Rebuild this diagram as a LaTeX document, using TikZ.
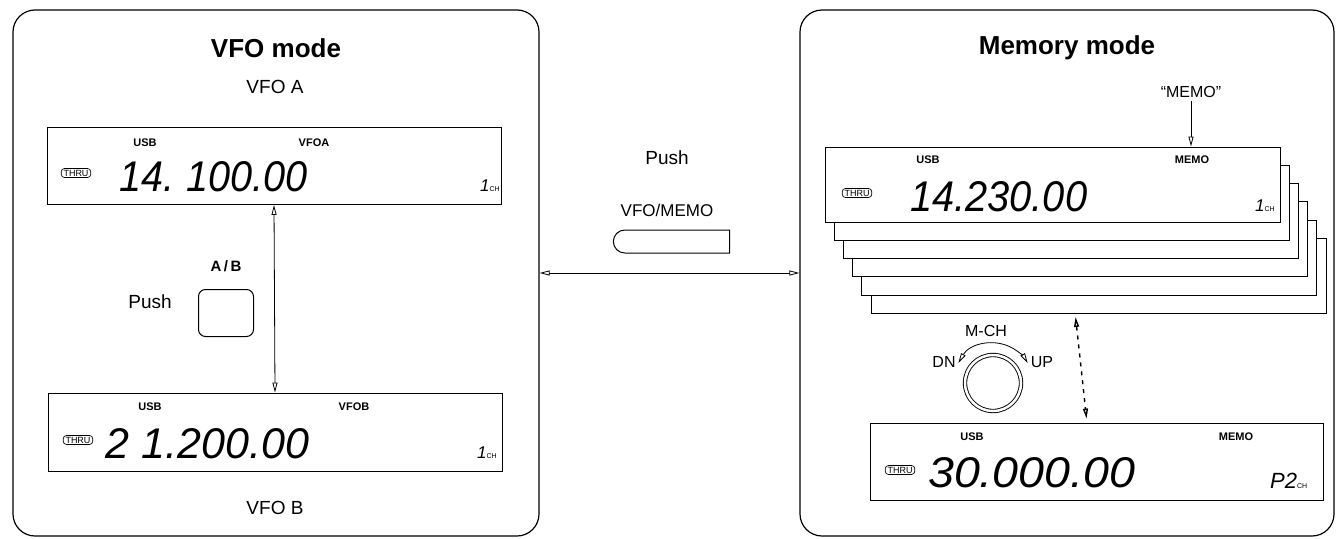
\documentclass[tikz,border=0pt]{standalone}
\usepackage{fontspec}
\setmainfont{Liberation Sans}
\usepackage{graphicx}
\usetikzlibrary{arrows.meta,shapes.misc,calc}
\newcommand{\lcdnum}[3]{\resizebox{#1pt}{#2pt}{\itshape #3}}
\newcommand{\chlbl}[2]{{\fontsize{#2}{#2}\selectfont\itshape #1}{\fontsize{7}{8}\selectfont CH}}
\begin{document}
\begin{tikzpicture}[x=1pt,y=-1pt,
  panel/.style={draw, line width=1.2pt, rounded corners=22pt},
  lcd/.style={draw, fill=white, line width=0.9pt},
  tiny/.style={font=\fontsize{11}{12}\selectfont\bfseries},
  lbl/.style={font=\fontsize{19}{22}\selectfont},
  ttl/.style={font=\fontsize{26}{30}\selectfont\bfseries},
  thru/.style={draw, rounded corners=3pt, inner xsep=2.2pt, inner ysep=1.3pt, font=\fontsize{9}{10}\selectfont, line width=0.7pt},
  num/.style={anchor=west, inner sep=0pt},
  tip/.tip={Triangle[open,length=10pt,width=5pt]},
  arr/.style={line width=0.8pt, tip-tip},
  arr1/.style={line width=0.8pt, -tip}]
\useasboundingbox (0,0) rectangle (1338,538);

% panels
\node[panel, minimum width=526pt, minimum height=526pt] (vfo) at (276,273) {};
\node[panel, minimum width=534pt, minimum height=526pt] (mem) at (1067,273) {};
\node[ttl] (vfot) at (276,48) {VFO mode};
\node[ttl] (memt) at (1067,48) {Memory mode};
\node[lbl] (vfoa) at (275,87) {VFO A};
\node[lbl] (vfob) at (275,508) {VFO B};

% VFO A display
\node[lcd, minimum width=454pt, minimum height=77pt] (da) at (274,166) {};
\node[tiny] (dausb) at (145,143) {USB};
\node[tiny] (davfo) at (314,143) {VFOA};
\node[thru] (dathru) at (76,173) {THRU};
\node[num] (danum) at (119,177) {\lcdnum{188}{30}{14.\hspace{0.3em}100.00}};
\node[anchor=base west, inner sep=0pt] (dach) at (480,191) {\chlbl{1}{17}};

% VFO B display
\node[lcd, minimum width=454pt, minimum height=78pt] (db) at (275,432) {};
\node[tiny] (dbusb) at (150,407) {USB};
\node[tiny] (dbvfo) at (354,407) {VFOB};
\node[thru] (dbthru) at (78,440) {THRU};
\node[num] (dbnum) at (105,444) {\lcdnum{204}{30}{2\hspace{0.3em}1.200.00}};
\node[anchor=base west, inner sep=0pt] (dbch) at (477,458) {\chlbl{1}{17}};

\draw[arr] (da.south) -- (db.north);

% A/B button
\node[font=\fontsize{15}{17}\selectfont\bfseries] (ablbl) at (226,266) {A\,/\,B};
\node[lbl] (push1) at (150,302) {Push};
\node[draw, rounded corners=7pt, minimum width=55pt, minimum height=47pt, line width=1pt] (abbtn) at (226,313) {};

% middle
\node[lbl] (push2) at (667,158) {Push};
\node[font=\fontsize{17}{19}\selectfont] (vmlbl) at (667,210) {VFO/MEMO};
\node[draw, rounded rectangle, rounded rectangle right arc=none, minimum width=123pt, minimum height=23pt, line width=1pt] (vmbtn) at (671.5,241.5) {};
\draw[arr] (vfo.east) -- (mem.west);

% memory stack
\foreach \i in {5,4,3,2,1}{
  \node[lcd, minimum width=455pt, minimum height=75pt] (ml\i) at ({1052.5+9.2*\i},{184.5+18.3*\i}) {};
}
\node[lcd, minimum width=455pt, minimum height=75pt] (md0) at (1052.5,184.5) {};
\node[font=\fontsize{16}{18}\selectfont] (memq) at (1191,92) {“MEMO”};
\draw[arr1] (memq.south) -- (memq.south |- md0.north);
\node[tiny] (mdusb) at (928,160) {USB};
\node[tiny] (mdmemo) at (1192,160) {MEMO};
\node[thru] (mdthru) at (857,193) {THRU};
\node[num] (mdnum) at (898,197) {\lcdnum{189}{30}{\hspace{0.3em}14.230.00}};
\node[anchor=base west, inner sep=0pt] (mdch) at (1255,211) {\chlbl{1}{17}};

% knob
\node[font=\fontsize{16}{18}\selectfont] (mch) at (986,331) {M-CH};
\node[font=\fontsize{16}{18}\selectfont] (dn) at (944,362) {DN};
\node[font=\fontsize{16}{18}\selectfont] (up) at (1042,362) {UP};
\node[circle, draw, double, double distance=2.5pt, line width=0.9pt, minimum size=56pt] (knob) at (993,383) {};
\draw[arr] ([shift={(-150:40)}]knob.center) arc[start angle=-150, end angle=-30, radius=40];

% bottom memory display
\node[lcd, minimum width=453pt, minimum height=77pt] (mb) at (1096.5,461.5) {};
\node[tiny] (mbusb) at (972,437) {USB};
\node[tiny] (mbmemo) at (1236,437) {MEMO};
\node[thru] (mbthru) at (900,470) {THRU};
\node[num] (mbnum) at (928,473) {\lcdnum{207}{30}{30.000.00}};
\node[anchor=base west, inner sep=0pt] (mbch) at (1270,488) {\chlbl{P2}{22}};

\coordinate (dtop) at ($(ml5.south west)+(205,3)$);
\coordinate (dbot) at ($(mb.north west)+(217,-4)$);
\draw[arr, line width=1.4pt, dash pattern=on 4pt off 5pt] (dtop) -- (dbot);
\end{tikzpicture}
\end{document}
